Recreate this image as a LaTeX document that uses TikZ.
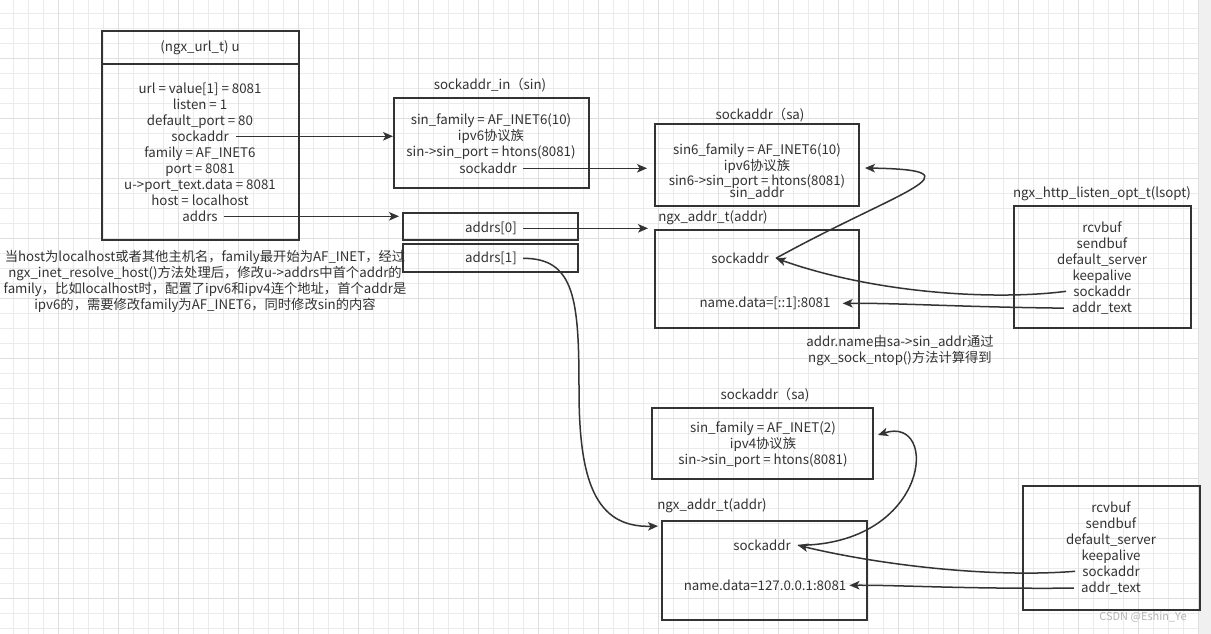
\documentclass[tikz,border=0pt]{standalone}
\usepackage{fontspec}
\setmainfont{Noto Sans CJK SC}
\usetikzlibrary{arrows.meta}
\definecolor{ink}{HTML}{333333}
\definecolor{gridminor}{HTML}{EBEBEB}
\definecolor{gridmajor}{HTML}{DFDFDF}
\definecolor{sidegray}{HTML}{F0F0F0}
\definecolor{markgray}{HTML}{B4B4B4}
\begin{document}
\begin{tikzpicture}[x=1pt, y=-1pt,
		box/.style={draw=ink, line width=1.9pt, inner sep=0pt},
		txt/.style={text=ink, inner sep=0pt, font=\fontsize{13.3}{16}\selectfont},
		lbl/.style={txt, anchor=base, yshift=-4.5pt},
		arr/.style={draw=ink, line width=1.5pt, -{Stealth[length=10pt, width=8.5pt, inset=2.5pt]}},
		gridline/.style={draw=gridminor, line width=0.8pt},
		gridbold/.style={draw=gridmajor, line width=0.9pt}]
		\useasboundingbox (0,0) rectangle (1211,634);
		\fill[white] (0,0) rectangle (1198,634);
		\fill[sidegray] (1198,0) rectangle (1211,634);
		\foreach \k in {0,...,79} {\draw[gridline] ({13.3+15*\k},0) -- ({13.3+15*\k},634);}
		\foreach \k in {0,...,41} {\draw[gridline] (0,{13.3+15*\k}) -- (1198,{13.3+15*\k});}
		\foreach \k in {0,...,19} {\draw[gridbold] ({58.3+60*\k},0) -- ({58.3+60*\k},634);}
		\foreach \k in {0,...,9} {\draw[gridbold] (0,{58.3+60*\k}) -- (1198,{58.3+60*\k});}
		
		% (ngx_url_t) u
		\node[box, minimum width=197, minimum height=33] (uhead) at (200.5,47.5) {};
		\node[lbl] (uttl) at (200,47) {(ngx\_url\_t) u};
		\node[box, minimum width=197, minimum height=176] (ubody) at (200.5,152) {};
		\node[lbl] (u1) at (200,89) {url = value[1] = 8081};
		\node[lbl] (u2) at (200,105) {listen = 1};
		\node[lbl] (u3) at (200,121) {default\_port = 80};
		\node[lbl] (u4) at (200,137) {sockaddr};
		\node[lbl] (u5) at (200,153) {family = AF\_INET6};
		\node[lbl] (u6) at (200,169) {port = 8081};
		\node[lbl] (u7) at (200,185) {u->port\_text.data = 8081};
		\node[lbl] (u8) at (200,201) {host = localhost};
		\node[lbl] (u9) at (200,217) {addrs};
		\node[txt, align=center] (note) at (205,281) {当host为localhost或者其他主机名，family最开始为AF\_INET，经过\\ngx\_inet\_resolve\_host()方法处理后，修改u->addrs中首个addr的\\family，比如localhost时，配置了ipv6和ipv4连个地址，首个addr是\\ipv6的，需要修改family为AF\_INET6，同时修改sin的内容};
		
		% sockaddr_in (sin)
		\node[lbl] (sinttl) at (490,85) {sockaddr\_in（sin)};
		\node[box, minimum width=195, minimum height=90] (sin) at (491.5,143) {};
		\node[lbl] (s1) at (491,120) {sin\_family = AF\_INET6(10)};
		\node[lbl] (s2) at (491,136) {ipv6协议族};
		\node[lbl] (s3) at (491,152) {sin->sin\_port = htons(8081)};
		\node[lbl] (s4) at (488,169) {sockaddr};
		
		% addrs
		\node[box, minimum width=175, minimum height=27] (a0) at (490.5,226.5) {};
		\node[box, minimum width=175, minimum height=28] (a1) at (490.5,258) {};
		\node[lbl] (a0t) at (491,228) {addrs[0]};
		\node[lbl] (a1t) at (491,258) {addrs[1]};
		
		% sockaddr (sa), ipv6
		\node[lbl] (sattl) at (760,115) {sockaddr（sa)};
		\node[box, minimum width=204, minimum height=82] (sa) at (757,165) {};
		\node[lbl] (sa1) at (757,150) {sin6\_family = AF\_INET6(10)};
		\node[lbl] (sa2) at (757,166) {ipv6协议族};
		\node[lbl] (sa3) at (757,181) {sin6->sin\_port = htons(8081)};
		\node[lbl] (sa4) at (757,193) {sin\_addr};
		
		% ngx_addr_t (addr), ipv6
		\node[lbl] (addrttl) at (713,217) {ngx\_addr\_t(addr)};
		\node[box, minimum width=204, minimum height=98] (addr) at (757,279) {};
		\node[lbl] (asock) at (740,259) {sockaddr};
		\node[lbl] (aname) at (765,303) {name.data=[::1]:8081};
		\node[txt, align=center] (namenote) at (900,350.5) {addr.name由sa->sin\_addr通过\\ngx\_sock\_ntop()方法计算得到};
		
		% lsopt
		\node[lbl] (lsttl) at (1102,193) {ngx\_http\_listen\_opt\_t(lsopt)};
		\node[box, minimum width=177, minimum height=122] (ls) at (1102.5,267) {};
		\node[lbl] (l1) at (1102,228) {rcvbuf};
		\node[lbl] (l2) at (1102,244) {sendbuf};
		\node[lbl] (l3) at (1102,260) {default\_server};
		\node[lbl] (l4) at (1102,276) {keepalive};
		\node[lbl] (l5) at (1102,292) {sockaddr};
		\node[lbl] (l6) at (1102,308) {addr\_text};
		
		% sockaddr (sa), ipv4
		\node[lbl] (sbttl) at (765,395) {sockaddr（sa)};
		\node[box, minimum width=221, minimum height=71] (sb) at (762.5,443.5) {};
		\node[lbl] (sb1) at (763,428) {sin\_family = AF\_INET(2)};
		\node[lbl] (sb2) at (763,444) {ipv4协议族};
		\node[lbl] (sb3) at (763,460) {sin->sin\_port = htons(8081)};
		
		% ngx_addr_t (addr), ipv4
		\node[lbl] (bddrttl) at (712,505) {ngx\_addr\_t(addr)};
		\node[box, minimum width=205, minimum height=99] (bddr) at (764.5,570.5) {};
		\node[lbl] (bsock) at (762,546) {sockaddr};
		\node[lbl] (bname) at (765,586) {name.data=127.0.0.1:8081};
		
		% lsopt, second
		\node[box, minimum width=177, minimum height=124] (lt) at (1111.5,548) {};
		\node[lbl] (m1) at (1111,508) {rcvbuf};
		\node[lbl] (m2) at (1111,524) {sendbuf};
		\node[lbl] (m3) at (1111,540) {default\_server};
		\node[lbl] (m4) at (1111,556) {keepalive};
		\node[lbl] (m5) at (1111,572) {sockaddr};
		\node[lbl] (m6) at (1111,588) {addr\_text};
		
		\node[text=markgray, inner sep=0pt, font=\fontsize{11}{13}\selectfont] (mark) at (1143,617) {CSDN @Eshin\_Ye};
		
		\draw[arr] ([xshift=7pt]u4.east) -- (u4.east -| sin.west);
		\draw[arr] ([xshift=6pt]u9.east) -- ([xshift=-3pt]u9.east -| a0.west);
		\draw[arr] ([xshift=6pt]s4.east) -- ([xshift=-7pt]s4.east -| sa.west);
		\draw[arr] ([xshift=6pt]a0t.east) -- ([xshift=-6pt]a0t.east -| addr.west);
		\draw[arr] ([xshift=6pt]a1t.east) .. controls (575,258) and (579,300) .. (579,390) .. controls (579,480) and (595,528) .. ([xshift=-3pt,yshift=-6pt]bddr.north west);
		\draw[arr] ([xshift=7pt]asock.east) .. controls (900,190) and (985,170) .. ([xshift=5pt,yshift=-3pt]sa.east);
		\draw[arr] ([xshift=-7pt]l5.west) .. controls (1000,300) and (880,295) .. ([xshift=7pt]asock.east);
		\draw[arr] ([xshift=-8pt]l6.west) .. controls (960,307) and (900,303) .. ([xshift=12pt]aname.east);
		\draw[arr] ([xshift=7pt]bsock.east) .. controls (930,545) and (940,415) .. ([xshift=4pt,yshift=8.5pt]sb.east);
		\draw[arr] ([xshift=-7pt]m5.west) .. controls (990,578) and (880,565) .. ([xshift=7pt]bsock.east);
		\draw[arr] ([xshift=-7pt]m6.west) .. controls (960,589) and (900,585) .. ([xshift=3pt]bname.east);
\end{tikzpicture}
\end{document}
